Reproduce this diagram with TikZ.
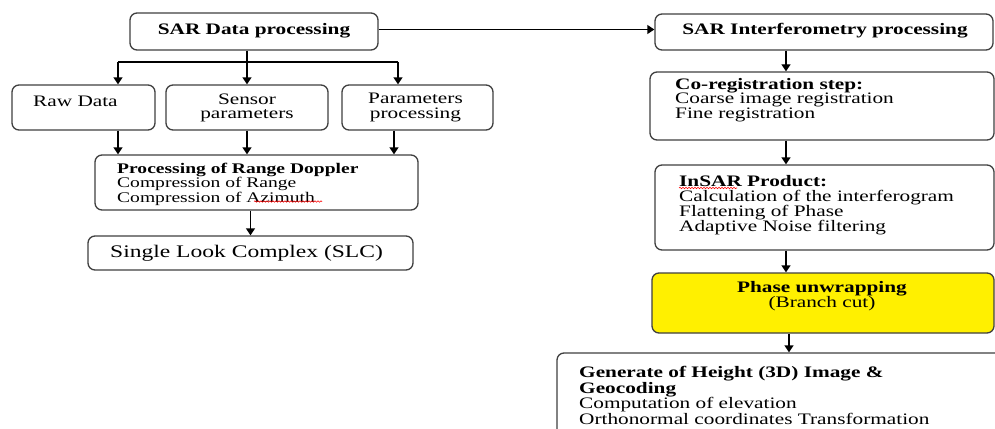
\documentclass[tikz,border=0pt]{standalone}
\usepackage{fontspec}
\setmainfont{Liberation Serif}[FakeStretch=1.33]
\usetikzlibrary{arrows.meta,decorations.pathmorphing}
\begin{document}
\begin{tikzpicture}[x=1pt,y=-1pt,
  box/.style={draw=black!75, line width=1.3pt, rounded corners=7pt, fill=white, inner sep=0pt},
  arr/.style={draw=black, line width=1.3pt, -{Triangle[width=9pt,length=7pt]}},
  ln/.style={draw=black, line width=1.3pt},
  txt/.style={inner sep=0pt, font=\fontsize{16}{14.5}\selectfont, align=left},
  squig/.style={draw=red, line width=0.6pt, decorate, decoration={snake, amplitude=0.7pt, segment length=3pt}}]
\useasboundingbox (0,0) rectangle (995,428);
\clip (0,0) rectangle (995,428);
\fill[white] (0,0) rectangle (995,428);

% boxes
\node[box, minimum width=248, minimum height=37] (sar) at (254,31.5) {};
\node[box, minimum width=143, minimum height=45] (raw) at (83.5,107.5) {};
\node[box, minimum width=162, minimum height=45] (sensor) at (247,107.5) {};
\node[box, minimum width=151, minimum height=45] (param) at (417.5,107.5) {};
\node[box, minimum width=323, minimum height=55] (rd) at (256.5,182.5) {};
\node[box, minimum width=325, minimum height=34] (slc) at (250.5,253) {};
\node[box, minimum width=338, minimum height=36] (insp) at (824,32) {};
\node[box, minimum width=344, minimum height=68] (coreg) at (822,106) {};
\node[box, minimum width=339, minimum height=85] (insar) at (824.5,207.5) {};
\node[box, fill={rgb,255:red,255;green,240;blue,0}, minimum width=342, minimum height=60] (phase) at (823,303) {};
\node[box, minimum width=453, minimum height=92] (gen) at (783.5,399) {};

% texts
\node[txt, anchor=base] (tsar) at (254,35) {\bfseries SAR Data processing};
\node[txt, anchor=base] (tinsp) at (825,35) {\bfseries SAR Interferometry processing};
\node[txt, anchor=base west] (traw) at (33,106) {Raw Data};
\node[txt, align=center, anchor=north, font=\fontsize{16}{14}\selectfont] (tsensor) at (247,94) {Sensor\\parameters};
\node[txt, align=center, anchor=north, font=\fontsize{16}{14.8}\selectfont] (tparam) at (415.5,93) {Parameters\\processing};
\node[txt, anchor=north west, font=\fontsize{14.7}{12.9}\selectfont] (trd) at (117,162.5)
  {{\bfseries Processing of Range Doppler}\\Compression of Range\\Compression of Azimuth};
\node[txt, anchor=base west, font=\fontsize{17.7}{20}\selectfont] (tslc) at (110,257) {Single Look Complex (SLC)};
\node[txt, anchor=north west] (tcoreg) at (675,78)
  {{\bfseries Co-registration step:}\\Coarse image registration\\Fine registration};
\node[txt, anchor=north west, font=\fontsize{16}{15}\selectfont] (tinsar) at (679,175)
  {{\bfseries InSAR Product:}\\Calculation of the interferogram\\Flattening of Phase\\Adaptive Noise filtering};
\node[txt, align=center, anchor=north, font=\fontsize{16}{15}\selectfont] (tphase) at (822,281)
  {{\bfseries Phase unwrapping}\\(Branch cut)};
\node[txt, anchor=north west] (tgen) at (579,366)
  {{\bfseries Generate of Height (3D) Image \&}\\{\bfseries Geocoding}\\Computation of elevation\\Orthonormal coordinates Transformation};

% spell-check squiggles
\draw[squig] (254,201.5) -- (322,201.5);
\draw[squig] (679,188) -- (737,188);

% connectors left
\coordinate (j) at (247,62);
\coordinate (jl) at (118,62);
\coordinate (jr) at (398,62);
\coordinate (kr) at (394,0);
\draw[ln] (j |- sar.south) -- (j);
\draw[ln] (jl) -- (jr);
\draw[arr] (jl) -- (jl |- raw.north);
\draw[arr] (j) -- (j |- sensor.north);
\draw[arr] (jr) -- (jr |- param.north);
\draw[arr] (jl |- raw.south) -- (jl |- rd.north);
\draw[arr] (j |- sensor.south) -- (j |- rd.north);
\draw[arr] (kr |- param.south) -- (kr |- rd.north);
\draw[arr] (rd.south -| slc.north) -- (slc.north);

% connectors right
\draw[arr] ([yshift=2pt]sar.east) -- ([yshift=2pt]sar.east -| insp.west);
\coordinate (rc) at (786,0);
\coordinate (rc2) at (789,0);
\draw[arr] (rc |- insp.south) -- (rc |- coreg.north);
\draw[arr] (rc |- coreg.south) -- (rc |- insar.north);
\draw[arr] (rc |- insar.south) -- (rc |- phase.north);
\draw[arr] (rc2 |- phase.south) -- (rc2 |- gen.north);
\end{tikzpicture}
\end{document}
